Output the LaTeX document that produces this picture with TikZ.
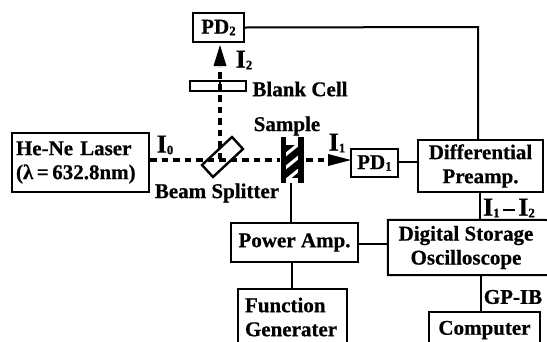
\documentclass[tikz,border=0pt]{standalone}
\usepackage{fontspec}
\setmainfont{Liberation Serif}[BoldFeatures={FakeBold=0.6}]
\newcommand{\sbs}[1]{\raisebox{-0.08em}{\fontsize{13}{13}\selectfont #1}}
\newcommand{\bigI}{{\fontsize{26}{26}\selectfont I}}
\tikzset{
  x=1pt,y=-1pt,
  txt/.style={font=\fontsize{21}{24}\selectfont\bfseries,inner sep=0pt,text=black},
  boxed/.style={txt,draw=black,line width=2pt,anchor=center,align=center},
  openbox/.style={txt,anchor=center},
  wire/.style={draw=black,line width=2pt},
  beam/.style={draw=black,line width=3.2pt,dash pattern=on 6.5pt off 5pt},
  shell/.style={draw=black,line width=2pt},
  arrowhead/.style={fill=black,draw=none}
}
\begin{document}
\begin{tikzpicture}
\useasboundingbox (0,0) rectangle (547,341);
\clip (0,0) rectangle (547,341);
\fill[white] (0,0) rectangle (547,341);
% coordinates for the beam
\coordinate (split) at (221,159);
\coordinate (head1) at (351,160);
\coordinate (base1) at (328,160);
\coordinate (head2) at (220,45);
\coordinate (base2) at (220,66);
% boxes
\node[boxed,minimum width=51,minimum height=29] (pd2) at (218.5,27.5) {PD\sbs{2}};
\node[boxed,minimum width=137,minimum height=59,align=left,text width=129] (laser) at (80.5,162.5) {He-Ne Laser\\(λ\,=\,632.8nm)};
\node[boxed,minimum width=47,minimum height=28] (pd1) at (374.5,163) {PD\sbs{1}};
\node[boxed,minimum width=125,minimum height=52] (diff) at (480.5,166) {Differential\\Preamp.};
\node[boxed,minimum width=127,minimum height=39] (pow) at (294.5,242.5) {Power Amp.};
\node[openbox,minimum width=156,minimum height=55,align=center] (dso) at (466,247.5) {Digital Storage\\Oscilloscope};
\node[openbox,minimum width=109,minimum height=56,align=left,text width=95] (fg) at (292.5,317) {Function\\Generater};
\node[openbox,minimum width=111,minimum height=36] (comp) at (484.5,330) {Computer};
\draw[shell] (550,220) -- (dso.north west) -- (dso.south west) -- (550,275);
\draw[shell] (fg.south west) -- (fg.north west) -- (fg.north east) -- (fg.south east);
\draw[shell] (comp.south west) -- (comp.north west) -- (comp.north east) -- (comp.south east);
% sample
\fill[black] (285,145) rectangle (299,178);
\begin{scope}
\clip (286,145) rectangle (298,178);
\foreach \yy in {154,167,180}{
  \fill[white] (284,\yy) -- (300,\yy-13) -- (300,\yy-9) -- (284,\yy+4) -- cycle;
}
\end{scope}
\fill[black] (280.5,137) rectangle (286,183);
\fill[black] (298,137) rectangle (304,183);
% beams
\draw[beam] (laser.east |- split) ++(0,1) -- (280,160);
\draw[beam] (306,160) -- (base1);
\draw[beam] (220,159) -- (220,67);
\fill[arrowhead] (head1) -- (base1|-0,154) -- (base1|-0,166) -- cycle;
\fill[arrowhead] (head2) -- (213.5,66) -- (226.5,66) -- cycle;
% blank cell and beam splitter
\node[draw=black,line width=2pt,minimum width=56,minimum height=10,inner sep=0pt] (cell) at (218,86) {};
\draw[black,line width=2.4pt] (220,81) -- (220,91);
\draw[shell,line width=2.4pt] (232,137) -- (243,149) -- (213,177) -- (202,165) -- cycle;
% wires
\draw[wire] (pd2.east) -- (478,27) -- (478,140);
\draw[wire] (pd1.east |- 0,162) -- (diff.west |- 0,162);
\draw[wire] (480,192) -- (480,220);
\draw[wire] (291,183) -- (291,223);
\draw[wire] (pow.east |- 0,244) -- (dso.west |- 0,244);
\draw[wire] (292,262) -- (292,289);
\draw[wire] (481,275) -- (481,312);
% labels
\node[txt,anchor=center] (li0) at (165,145) {\bigI\sbs{0}};
\node[txt,anchor=center] (li1) at (337,143) {\bigI\sbs{1}};
\node[txt,anchor=center] (li2) at (244,60) {\bigI\sbs{2}};
\node[txt,anchor=center] (lcell) at (300,89) {Blank Cell};
\node[txt,anchor=center] (lsample) at (287,126) {Sample};
\node[txt,anchor=center] (lbs) at (217,193) {Beam Splitter};
\node[txt,anchor=center] (ldiff) at (509,208) {\bigI\sbs{1}\,\rule[0.22em]{0.55em}{2pt}\,\bigI\sbs{2}};
\node[txt,anchor=center] (lgp) at (513,297) {GP-IB};
\end{tikzpicture}
\end{document}
